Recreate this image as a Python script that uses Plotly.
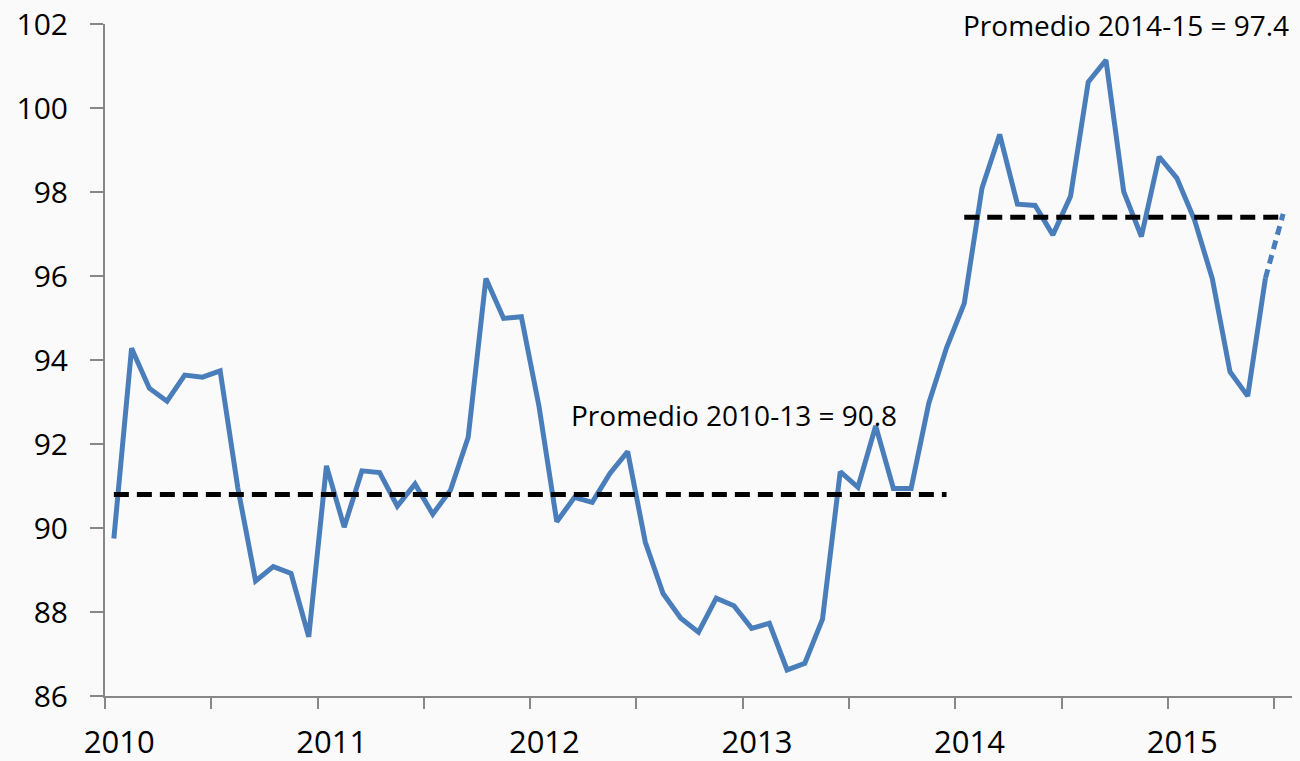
import plotly.graph_objects as go

# ── Data (monthly index, Jan 2010 .. Jul 2015; last month is provisional) ─────
years = ["2010", "2011", "2012", "2013", "2014", "2015"]
values = [
    89.75, 94.28, 93.33, 93.02, 93.64, 93.59, 93.74, 90.95, 88.74, 89.08, 88.92, 87.41,  # 2010
    91.48, 90.02, 91.36, 91.32, 90.52, 91.05, 90.33, 90.90, 92.16, 95.94, 94.99, 95.03,  # 2011
    92.89, 90.15, 90.73, 90.61, 91.30, 91.82, 89.66, 88.44, 87.85, 87.52, 88.33, 88.15,  # 2012
    87.61, 87.73, 86.62, 86.78, 87.83, 91.34, 90.97, 92.43, 90.94, 90.94, 92.97, 94.29,  # 2013
    95.35, 98.09, 99.37, 97.71, 97.68, 96.98, 97.90, 100.62, 101.14, 98.01, 96.94, 98.84,  # 2014
    98.33, 97.33, 95.94, 93.72, 93.14, 95.95, 97.48,                                      # 2015
]
avg_2010_13 = 90.8
avg_2014_15 = 97.4

n = len(values)
x = list(range(n))
BLUE = "#4a7ebb"
AXIS = "#878787"
BG = "#fafafa"
FONT = "Open Sans, Lato, sans-serif"

fig = go.Figure()

# Solid series up to the last firm month
fig.add_trace(go.Scatter(
    x=x[:-1], y=values[:-1], mode="lines",
    line=dict(color=BLUE, width=5), showlegend=False,
))
# Provisional last month (dotted)
fig.add_trace(go.Scatter(
    x=x[-2:], y=values[-2:], mode="lines",
    line=dict(color=BLUE, width=5, dash="9px,6px"), showlegend=False,
))
# Period averages
fig.add_trace(go.Scatter(
    x=[0, 47], y=[avg_2010_13, avg_2010_13], mode="lines",
    line=dict(color="black", width=5, dash="15px,8px"), showlegend=False,
))
fig.add_trace(go.Scatter(
    x=[48, n - 1], y=[avg_2014_15, avg_2014_15], mode="lines",
    line=dict(color="black", width=5, dash="15px,8px"), showlegend=False,
))

fig.add_annotation(x=35, y=92.7, text=f"Promedio 2010-13 = {avg_2010_13}",
                   showarrow=False, xanchor="center", yanchor="middle",
                   font=dict(family=FONT, size=28, color="black"))
fig.add_annotation(x=57.15, y=101.98, text=f"Promedio 2014-15 = {avg_2014_15}",
                   showarrow=False, xanchor="center", yanchor="middle",
                   font=dict(family=FONT, size=28, color="black"))

fig.update_layout(
    width=1300, height=761,
    margin=dict(l=105, r=8, t=24, b=65),
    paper_bgcolor=BG,
    plot_bgcolor=BG,
    xaxis=dict(
        range=[-0.5, n - 0.5],
        automargin=False,
        tickmode="array",
        tickvals=[12 * i + 0.3 for i in range(len(years))],
        ticktext=years,
        ticks="",
        ticklabelstandoff=18,
        showgrid=False, zeroline=False,
        showline=True, linecolor=AXIS, linewidth=2,
        tickfont=dict(family=FONT, size=31, color="black"),
        minor=dict(
            tickmode="array",
            tickvals=[6 * i - 0.5 for i in range(n // 6 + 1)],
            ticks="outside", ticklen=11, tickwidth=1.5, tickcolor=AXIS,
            showgrid=False,
        ),
    ),
    yaxis=dict(
        range=[86, 102],
        automargin=False,
        tickmode="linear", tick0=86, dtick=2,
        ticks="outside", ticklen=13, tickwidth=1.5, tickcolor=AXIS,
        ticklabelstandoff=16,
        showgrid=False, zeroline=False,
        showline=True, linecolor=AXIS, linewidth=2,
        tickfont=dict(family=FONT, size=30, color="black"),
    ),
)

# drop the default 8px page margin so the figure sits at the window origin
fig.write_html(
    "out.html",
    config={"displayModeBar": False},
    post_script=f"document.body.style.margin='0';"
                f"document.body.style.overflow='hidden';"
                f"document.body.style.background='{BG}';",
)
